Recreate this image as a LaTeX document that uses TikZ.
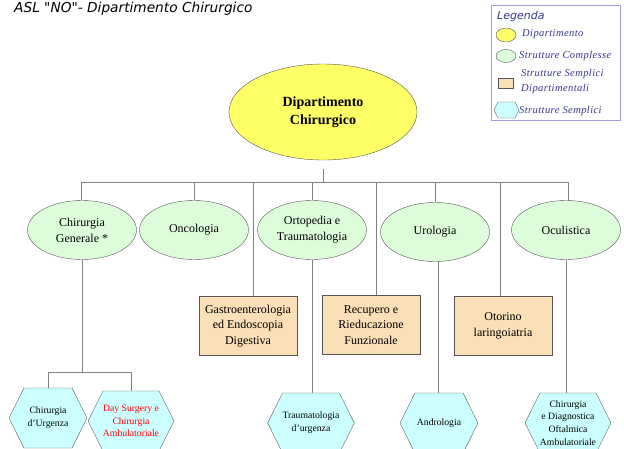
\documentclass[tikz,border=0pt]{standalone}
\usepackage{fontspec}
\setmainfont{Liberation Serif}
\newfontfamily\titlefont{DejaVu Sans}
\usetikzlibrary{shapes.geometric,shapes.symbols}
\definecolor{yel}{RGB}{255,255,102}
\definecolor{grn}{RGB}{221,253,218}
\definecolor{tanb}{RGB}{251,224,183}
\definecolor{cyn}{RGB}{204,255,255}
\definecolor{lnc}{RGB}{128,128,128}
\definecolor{bord}{RGB}{85,85,85}
\definecolor{navy}{RGB}{51,51,140}
\definecolor{legb}{RGB}{160,160,225}
\begin{document}
\begin{tikzpicture}[x=1pt,y=-1pt,
  conn/.style={draw=lnc, line width=0.6pt},
  dept/.style={ellipse, draw=bord, fill=yel, minimum width=188pt, minimum height=96pt, inner sep=0pt, align=center, font=\fontsize{14}{17.5}\selectfont\bfseries},
  sc/.style={ellipse, draw=bord, fill=grn, minimum width=109pt, minimum height=59pt, inner sep=0pt, align=center, font=\fontsize{12}{16}\selectfont},
  ssd/.style={rectangle, draw=bord, fill=tanb, minimum width=98pt, minimum height=59pt, inner sep=0pt, align=center, font=\fontsize{12}{15.5}\selectfont},
  ss/.style={signal, signal to=east and west, signal pointer angle=127, draw=bord, fill=cyn, minimum width=78pt, minimum height=60pt, inner sep=0pt, align=center, font=\fontsize{9.7}{12.7}\selectfont},
  legtxt/.style={anchor=west, inner sep=0pt, text=navy, align=left, font=\fontsize{10.5}{15}\selectfont\itshape\addfontfeatures{LetterSpace=4}},
]
\useasboundingbox (0,0) rectangle (624,448);
% title
\node[anchor=west, inner sep=0pt, font=\titlefont\itshape\fontsize{13.7}{15}\selectfont] (title) at (14,9) {ASL "NO"- Dipartimento Chirurgico};
% legend
\node[draw=legb, line width=0.8pt, minimum width=129pt, minimum height=115pt, inner sep=0pt, anchor=north west] (leg) at (491,5) {};
\node[anchor=west, inner sep=0pt, text=navy, font=\titlefont\itshape\fontsize{11}{12}\selectfont] (legt) at (497,16) {Legenda};
\node[ellipse, draw=bord, fill=yel, minimum width=20pt, minimum height=14pt, inner sep=0pt] (l1) at (506,35) {};
\node[legtxt] (l1t) at (522,34) {Dipartimento};
\node[ellipse, draw=bord, fill=grn, minimum width=20pt, minimum height=13pt, inner sep=0pt] (l2) at (506,56) {};
\node[legtxt] (l2t) at (519,56) {Strutture Complesse};
\node[rectangle, draw=bord, fill=tanb, minimum width=15pt, minimum height=10pt, inner sep=0pt] (l3) at (505.5,83) {};
\node[legtxt] (l3t) at (521,81.5) {Strutture Semplici\\Dipartimentali};
\node[signal, signal to=east and west, signal pointer angle=127, draw=bord, fill=cyn, minimum width=25pt, minimum height=16pt, inner sep=0pt] (l4) at (506.5,110) {};
\node[legtxt] (l4t) at (519,111) {Strutture Semplici};
% main nodes
\node[dept] (dip) at (323,112) {Dipartimento\\Chirurgico};
\node[sc] (cg) at (82,230) {Chirurgia\\Generale *};
\node[sc] (onc) at (194,230) {Oncologia};
\node[sc] (ort) at (312,230) {Ortopedia e\\Traumatologia};
\node[sc] (uro) at (435,232) {Urologia};
\node[sc] (ocu) at (566,230) {Oculistica};
\node[ssd] (gas) at (248,326) {Gastroenterologia\\ed Endoscopia\\Digestiva};
\node[ssd] (rec) at (371,325) {Recupero e\\Rieducazione\\Funzionale};
\node[ssd] (oto) at (503,326) {Otorino\\laringoiatria};
\node[ss] (cu) at (48,418) {Chirurgia\\d'Urgenza};
\node[ss, text=red] (ds) at (131,421) {Day Surgery e\\Chirurgia\\Ambulatoriale};
\node[ss] (tu) at (311,423) {Traumatologia\\d'urgenza};
\node[ss] (and) at (439,423) {Andrologia};
\node[ss] (och) at (568,423) {Chirurgia\\e Diagnostica\\Oftalmica\\Ambulatoriale};
% connectors
\coordinate (busL) at (81,182);
\coordinate (busR) at (568,182);
\coordinate (sb) at (0,372);
\coordinate (gasT) at ([xshift=5pt]gas.north);
\coordinate (recT) at ([xshift=5pt]rec.north);
\coordinate (otoT) at ([xshift=-2.5pt]oto.north);
\draw[conn, shorten <=9pt] (dip.south) -- (dip.south |- busL);
\draw[conn] (busL) -- (busR);
\draw[conn] (busL) -- (busL |- cg.north);
\draw[conn] (onc.north |- busL) -- (onc.north);
\draw[conn] (ort.north |- busL) -- (ort.north);
\draw[conn] (uro.north |- busL) -- (uro.north);
\draw[conn] (busR) -- (busR |- ocu.north);
\draw[conn] (gasT |- busL) -- (gasT);
\draw[conn] (recT |- busL) -- (recT);
\draw[conn] (otoT |- busL) -- (otoT);
\draw[conn] (cg.south) -- (cg.south |- sb);
\draw[conn] (cu.north |- sb) -- (ds.north |- sb);
\draw[conn] (cu.north |- sb) -- (cu.north);
\draw[conn] (ds.north |- sb) -- (ds.north);
\draw[conn] (ort.south) -- (ort.south |- tu.north);
\draw[conn] ([xshift=3pt]uro.south) -- ([xshift=3pt]uro.south |- and.north);
\draw[conn] (ocu.south) -- (ocu.south |- och.north);
\end{tikzpicture}
\end{document}
